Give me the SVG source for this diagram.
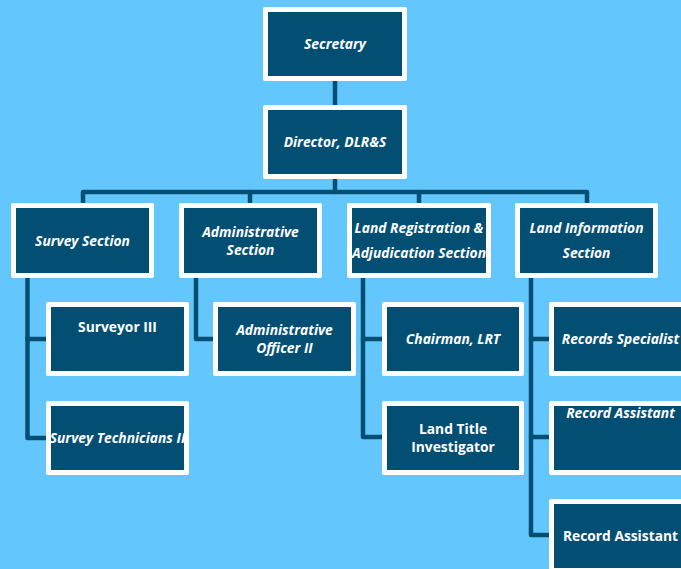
<svg xmlns="http://www.w3.org/2000/svg" width="681" height="569" viewBox="0 0 681 569">
<style>
.bg{fill:#63C7FD}
.o{fill:#FFFFFF}
.i{fill:#034F74}
.t{font-family:"Open Sans","Liberation Sans",sans-serif;font-size:13.8px;font-weight:bold;fill:#FFFFFF;text-anchor:middle}
.it{font-style:italic}
.c{fill:none;stroke:#034F74;stroke-width:4.5;stroke-linejoin:round;stroke-linecap:round}
</style>
<defs>
<clipPath id="cTech"><rect x="51" y="406" width="133" height="64"/></clipPath>
<clipPath id="cLR"><rect x="352" y="208" width="134" height="65"/></clipPath>
</defs>
<rect class="bg" x="0" y="0" width="681" height="569"/>
<g id="connectors">
<path class="c" d="M335,81 V105"/>
<path class="c" d="M335,179 V192"/>
<path class="c" d="M83,203 V192 H587 V203"/>
<path class="c" d="M250,192 V203"/>
<path class="c" d="M419,192 V203"/>
<path class="c" d="M27.5,278 V438 H46"/>
<path class="c" d="M27.5,339 H46"/>
<path class="c" d="M196,278 V339 H213"/>
<path class="c" d="M363,278 V437 H382"/>
<path class="c" d="M363,339 H382"/>
<path class="c" d="M531,278 V535 H549"/>
<path class="c" d="M531,339 H549"/>
<path class="c" d="M531,437 H549"/>
</g>
<g id="secretary">
<rect class="o" x="263" y="7" width="144" height="74" rx="2"/>
<rect class="i" x="268" y="12" width="134" height="64"/>
<text class="t it" x="335" y="49">Secretary</text>
</g>
<g id="director">
<rect class="o" x="263" y="105" width="144" height="74" rx="2"/>
<rect class="i" x="268" y="110" width="134" height="64"/>
<text class="t it" x="335" y="147">Director, DLR&amp;S</text>
</g>
<g id="survey-section">
<rect class="o" x="11" y="203" width="143" height="75" rx="2"/>
<rect class="i" x="16" y="208" width="133" height="65"/>
<text class="t it" x="82.5" y="246">Survey Section</text>
</g>
<g id="administrative-section">
<rect class="o" x="179" y="203" width="143" height="75" rx="2"/>
<rect class="i" x="184" y="208" width="133" height="65"/>
<text class="t it" x="250.5" y="237">Administrative</text>
<text class="t it" x="250.5" y="255">Section</text>
</g>
<g id="land-registration-section">
<rect class="o" x="347" y="203" width="144" height="75" rx="2"/>
<rect class="i" x="352" y="208" width="134" height="65"/>
<g clip-path="url(#cLR)">
<text class="t it" x="419" y="233">Land Registration &amp;</text>
<text class="t it" x="419" y="258">Adjudication Section</text>
</g>
</g>
<g id="land-information-section">
<rect class="o" x="515" y="203" width="143" height="75" rx="2"/>
<rect class="i" x="520" y="208" width="133" height="65"/>
<text class="t it" x="586.5" y="233">Land Information</text>
<text class="t it" x="586.5" y="258">Section</text>
</g>
<g id="surveyor-iii">
<rect class="o" x="46" y="302" width="143" height="74" rx="2"/>
<rect class="i" x="51" y="307" width="133" height="64"/>
<text class="t" x="117.5" y="332">Surveyor III</text>
</g>
<g id="survey-technicians-ii">
<rect class="o" x="46" y="401" width="143" height="74" rx="2"/>
<rect class="i" x="51" y="406" width="133" height="64"/>
<g clip-path="url(#cTech)">
<text class="t it" x="117.5" y="443">Survey Technicians II</text>
</g>
</g>
<g id="administrative-officer-ii">
<rect class="o" x="213" y="302" width="143" height="74" rx="2"/>
<rect class="i" x="218" y="307" width="133" height="64"/>
<text class="t it" x="284.5" y="335">Administrative</text>
<text class="t it" x="284.5" y="353">Officer II</text>
</g>
<g id="chairman-lrt">
<rect class="o" x="382" y="302" width="142" height="74" rx="2"/>
<rect class="i" x="387" y="307" width="132" height="64"/>
<text class="t it" x="453" y="344">Chairman, LRT</text>
</g>
<g id="land-title-investigator">
<rect class="o" x="382" y="401" width="142" height="74" rx="2"/>
<rect class="i" x="387" y="406" width="132" height="64"/>
<text class="t" x="453" y="434">Land Title</text>
<text class="t" x="453" y="452">Investigator</text>
</g>
<g id="records-specialist">
<rect class="o" x="549" y="302" width="143" height="74" rx="2"/>
<rect class="i" x="554" y="307" width="133" height="64"/>
<text class="t it" x="620.5" y="344">Records Specialist</text>
</g>
<g id="record-assistant-1">
<rect class="o" x="549" y="401" width="143" height="74" rx="2"/>
<rect class="i" x="554" y="406" width="133" height="64"/>
<text class="t it" x="620.5" y="418">Record Assistant</text>
</g>
<g id="record-assistant-2">
<rect class="o" x="549" y="499" width="143" height="74" rx="2"/>
<rect class="i" x="554" y="504" width="133" height="64"/>
<text class="t" x="620.5" y="541">Record Assistant</text>
</g>
</svg>
